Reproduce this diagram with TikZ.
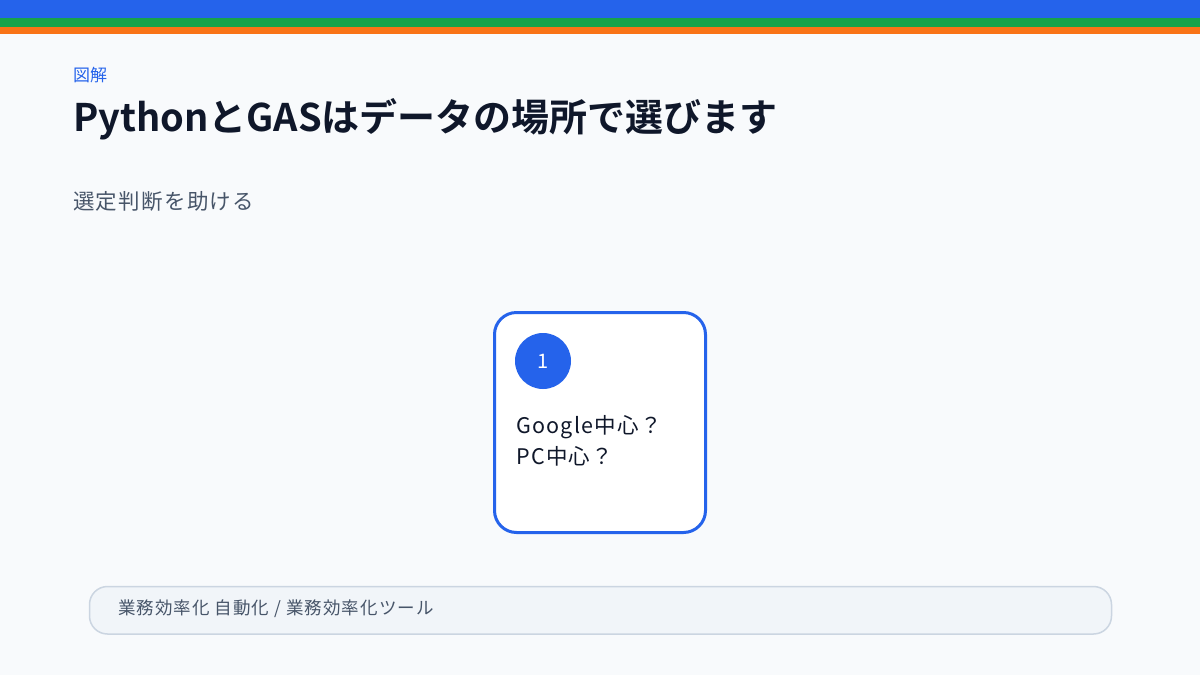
\documentclass[tikz,border=0pt]{standalone}
\usepackage{fontspec}
\setmainfont{Noto Sans CJK JP}
\newfontfamily\jpbold{Noto Sans CJK JP Bold}
\newfontfamily\jpspaced[LetterSpace=6]{Noto Sans CJK JP}
\definecolor{bgc}{HTML}{F8FAFC}
\definecolor{bluec}{HTML}{2563EB}
\definecolor{greenc}{HTML}{16A34A}
\definecolor{orangec}{HTML}{F97316}
\definecolor{inkc}{HTML}{0F172A}
\definecolor{grayc}{HTML}{475569}
\definecolor{barfill}{HTML}{F1F5F9}
\definecolor{barline}{HTML}{CBD5E1}
\tikzset{
  txt/.style={inner sep=0pt, anchor=base west},
  cardbox/.style={draw=bluec, line width=3pt, fill=white, rounded corners=22pt},
  badge/.style={circle, fill=bluec, minimum size=56pt, inner sep=0pt, text=white, font=\fontsize{20}{24}\selectfont},
  footbar/.style={draw=barline, line width=1.5pt, fill=barfill, rounded corners=18pt},
  cardtxt/.style={txt, text=inkc, font=\jpspaced\fontsize{21.5}{25}\selectfont},
}
\begin{document}
\begin{tikzpicture}[x=1pt,y=-1pt]
\useasboundingbox (0,0) rectangle (1200,675);
\fill[bgc] (0,0) rectangle (1200,675);
\fill[bluec] (0,0) rectangle (1200,18);
\fill[greenc] (0,18) rectangle (1200,27);
\fill[orangec] (0,27) rectangle (1200,34);
\node[txt, text=bluec, font=\fontsize{17}{20}\selectfont] (kicker) at (73,81) {図解};
\node[txt, text=inkc, font=\jpbold\fontsize{38}{45}\selectfont] (title) at (73,131) {PythonとGASはデータの場所で選びます};
\node[txt, text=grayc, font=\jpspaced\fontsize{21.5}{25}\selectfont] (sub) at (73,209) {選定判断を助ける};
\draw[cardbox] (494.5,312.5) rectangle (705.5,532.5);
\node[badge] (num) at (543,361) {1};
\node[cardtxt] (l1) at (516,433) {Google中心？};
\node[cardtxt] (l2) at (516,464) {PC中心？};
\draw[footbar] (89.5,586.5) rectangle (1111.5,634);
\node[txt, text=grayc, font=\jpspaced\fontsize{17.5}{21}\selectfont] (foot) at (118,614) {業務効率化 自動化 / 業務効率化ツール};
\end{tikzpicture}
\end{document}
